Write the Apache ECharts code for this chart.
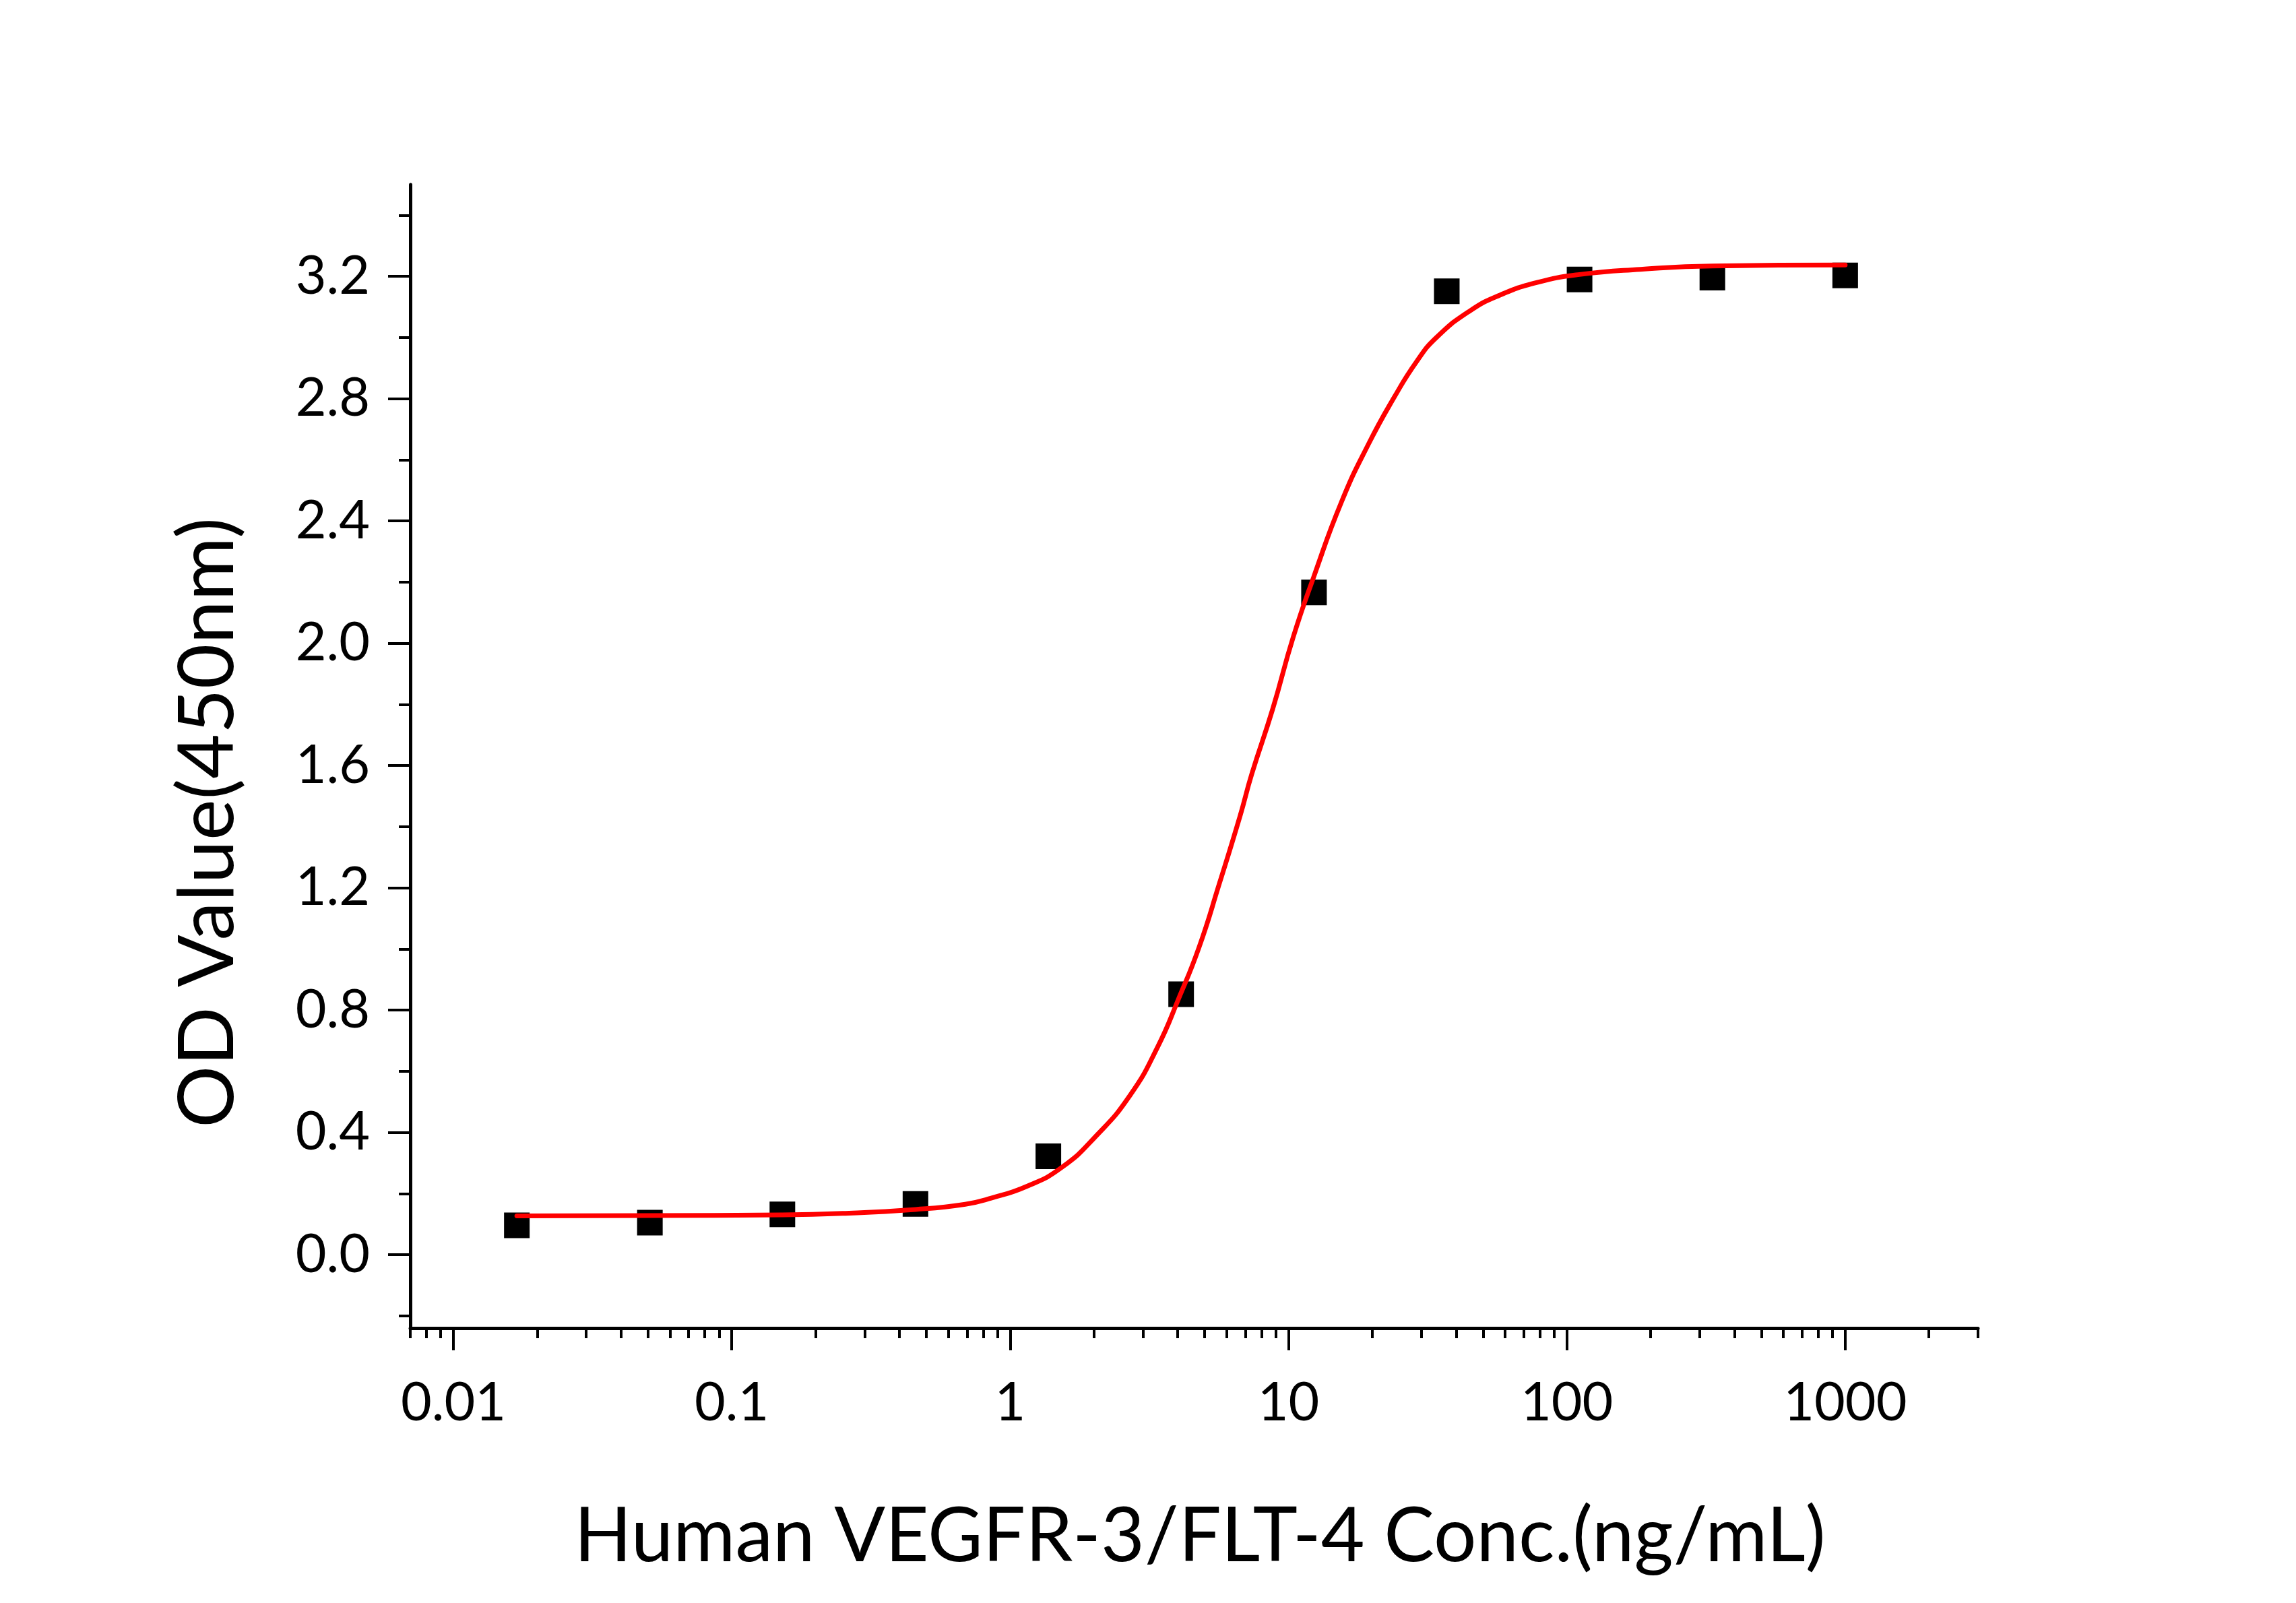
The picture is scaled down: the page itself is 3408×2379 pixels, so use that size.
<!DOCTYPE html>
<html>
<head>
<meta charset="utf-8">
<script src="https://cdn.jsdelivr.net/npm/echarts@6/dist/echarts.min.js"></script>
<style>
html,body{margin:0;padding:0;background:#ffffff;}
#chart{width:3408px;height:2379px;}
</style>
</head>
<body>
<div id="chart"></div>
<script>
// Measured data points (concentration in ng/mL, OD at 450nm)
const concentrations = [0.0169, 0.0508, 0.152, 0.457, 1.372, 4.115, 12.35, 37.04, 111.1, 333.3, 1000];
const odValues = [0.096, 0.105, 0.132, 0.166, 0.322, 0.852, 2.166, 3.151, 3.190, 3.196, 3.203];

// Fitted curve
const fitConc = [0.0169, 0.05, 0.15, 0.25, 0.457, 0.69, 0.855, 1.15, 1.53, 2.03, 2.70, 3.39, 4.02, 4.77, 5.65, 6.70, 7.38, 8.77, 10.4, 12.3, 15.5, 19.4, 24.0, 28.9, 34.0, 44.5, 57.3, 78.3, 111, 184, 334, 1000];
const fitOD = [0.127, 0.128, 0.130, 0.135, 0.148, 0.165, 0.185, 0.224, 0.285, 0.387, 0.522, 0.680, 0.835, 1.005, 1.215, 1.435, 1.572, 1.784, 2.020, 2.215, 2.462, 2.652, 2.805, 2.922, 3.000, 3.085, 3.138, 3.180, 3.206, 3.223, 3.234, 3.237];

// Axis ticks
const xMajorTicks = [0.01, 0.1, 1, 10, 100, 1000];
const xMinorTicks = [0.007, 0.008, 0.009,
  0.02, 0.03, 0.04, 0.05, 0.06, 0.07, 0.08, 0.09,
  0.2, 0.3, 0.4, 0.5, 0.6, 0.7, 0.8, 0.9,
  2, 3, 4, 5, 6, 7, 8, 9,
  20, 30, 40, 50, 60, 70, 80, 90,
  200, 300, 400, 500, 600, 700, 800, 900,
  2000, 3000];
const yMajorTicks = [0.0, 0.4, 0.8, 1.2, 1.6, 2.0, 2.4, 2.8, 3.2];
const yMinorTicks = [-0.2, 0.2, 0.6, 1.0, 1.4, 1.8, 2.2, 2.6, 3.0, 3.4];

const xTitle = 'Human VEGFR-3/FLT-4 Conc.(ng/mL)';
const yTitle = 'OD Value(450nm)';

const FONT = 'Lato';
const chart = echarts.init(document.getElementById('chart'), null, {renderer: 'canvas'});

const xBase = {
  type: 'log', logBase: 10, min: 0.007, max: 3000, position: 'bottom',
  splitLine: {show: false}, minorTick: {show: false}, minorSplitLine: {show: false}
};
const yBase = {
  type: 'value', min: -0.24, max: 3.5, position: 'left',
  splitLine: {show: false}, minorTick: {show: false}, minorSplitLine: {show: false}
};

const option = {
  backgroundColor: '#ffffff',
  animation: false,
  grid: {left: 609, right: 472, top: 274, bottom: 408, outerBoundsMode: 'none', containLabel: false},
  xAxis: [
    Object.assign({}, xBase, {
      axisLine: {show: true, onZero: false, lineStyle: {color: '#000', width: 5}},
      axisTick: {show: true, inside: false, length: 33, customValues: xMajorTicks, lineStyle: {color: '#000', width: 4}},
      axisLabel: {show: true, customValues: xMajorTicks, margin: 72, fontFamily: FONT, fontSize: 79, color: '#000',
        formatter: function (v) { return String(+Number(v).toPrecision(6)); }}
    }),
    Object.assign({}, xBase, {
      axisLine: {show: false, onZero: false},
      axisTick: {show: true, inside: false, length: 15, customValues: xMinorTicks, lineStyle: {color: '#000', width: 4}},
      axisLabel: {show: false}
    })
  ],
  yAxis: [
    Object.assign({}, yBase, {
      axisLine: {show: true, onZero: false, lineStyle: {color: '#000', width: 5}},
      axisTick: {show: true, inside: false, length: 33, customValues: yMajorTicks, lineStyle: {color: '#000', width: 4}},
      axisLabel: {show: true, customValues: yMajorTicks, margin: 60, fontFamily: FONT, fontSize: 79, color: '#000',
        formatter: function (v) { return Number(v).toFixed(1); }}
    }),
    Object.assign({}, yBase, {
      axisLine: {show: false, onZero: false},
      axisTick: {show: true, inside: false, length: 17, customValues: yMinorTicks, lineStyle: {color: '#000', width: 4}},
      axisLabel: {show: false}
    })
  ],
  series: [
    {
      type: 'scatter', xAxisIndex: 0, yAxisIndex: 0,
      data: concentrations.map(function (c, i) { return [c, odValues[i]]; }),
      symbol: 'rect', symbolSize: 38,
      itemStyle: {color: '#000000', opacity: 1}, z: 2
    },
    {
      type: 'line', xAxisIndex: 0, yAxisIndex: 0,
      data: fitConc.map(function (c, i) { return [c, fitOD[i]]; }),
      showSymbol: false, symbol: 'none', smooth: 0.5,
      lineStyle: {color: '#ff0000', width: 7, cap: 'round', join: 'round'}, z: 3
    }
  ],
  graphic: [
    {type: 'text', x: 1781, y: 2281,
      style: {text: xTitle, font: '112px Lato', fill: '#000', align: 'center', verticalAlign: 'middle'}},
    {type: 'text', x: 309, y: 1221, rotation: Math.PI / 2,
      style: {text: yTitle, font: '115px Lato', fill: '#000', align: 'center', verticalAlign: 'middle'}}
  ]
};
chart.setOption(option);
</script>
</body>
</html>
